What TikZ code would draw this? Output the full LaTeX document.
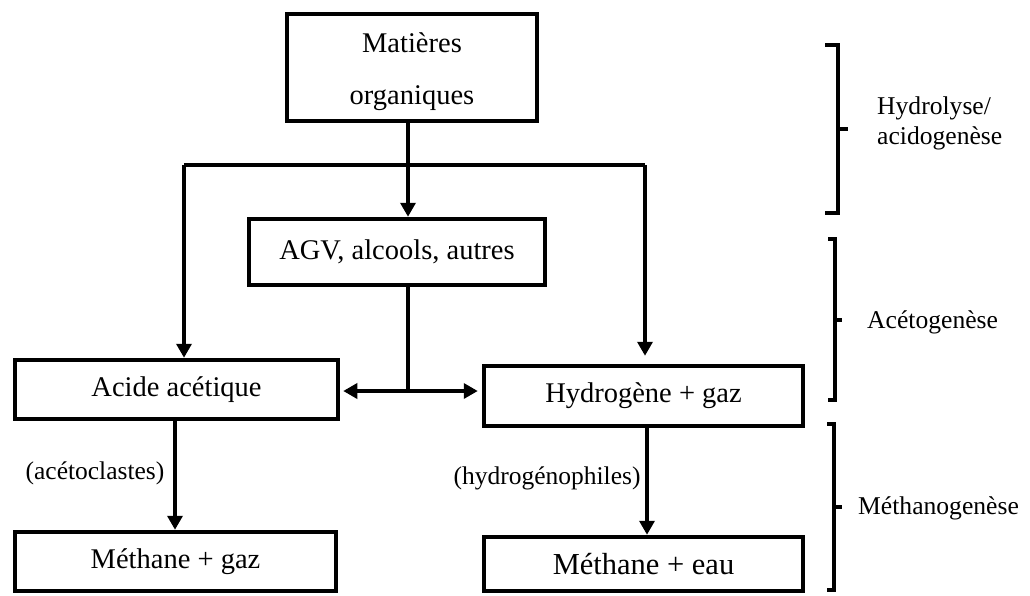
\documentclass[tikz,border=0pt]{standalone}
\usepackage{fontspec}
\setmainfont{Liberation Serif}
\usetikzlibrary{arrows.meta}

\begin{document}
\begin{tikzpicture}[x=1pt,y=-1pt,
  stagebox/.style={draw,line width=4.5pt,inner sep=0pt,align=center,
    font=\fontsize{28.5}{34}\selectfont},
  flow/.style={line width=3.4pt},
  flowarr/.style={flow,-{Triangle[length=14pt,width=15pt]}},
  bacteria/.style={inner sep=0pt,font=\fontsize{25.5}{30}\selectfont},
  phase/.style={inner sep=0pt,anchor=west,align=left,font=\fontsize{25.6}{30}\selectfont},
  bracket/.style={line width=3.4pt}]
\useasboundingbox (0,0) rectangle (1030,595);

% process boxes
\node[stagebox,minimum width=250pt,minimum height=107pt] (mat) at (412,67.5) {};
\node[inner sep=0pt,align=center,font=\fontsize{28.5}{52}\selectfont] (matlbl) at (412,72) {Matières\\organiques};
\node[stagebox,minimum width=296pt,minimum height=66pt] (agv) at (397,252) {AGV, alcools, autres};
\node[stagebox,minimum width=323pt,minimum height=59pt] (acide) at (176.5,389.5) {Acide acétique};
\node[stagebox,minimum width=319pt,minimum height=60pt] (hyd) at (643.5,396) {Hydrogène + gaz};
\node[stagebox,minimum width=321pt,minimum height=59pt] (mgaz) at (175.5,561.5) {Méthane + gaz};
\node[stagebox,minimum width=319pt,minimum height=54pt,
      font=\fontsize{30.5}{36}\selectfont] (meau) at (643.5,564) {Méthane + eau};

% split below the organic matter
\coordinate (split) at (408,165);
\coordinate (lb) at (184,165);
\coordinate (rb) at (645,165);
\draw[flowarr] (mat.south -| split) -- (agv.north -| split);
\draw[flow] (lb) -- (rb);
\draw[flowarr] (lb) -- (acide.north -| lb);
\draw[flowarr,shorten >=8pt] (rb) -- (hyd.north -| rb);

% acetogenesis junction
\coordinate (junc) at (408,391);
\draw[flow] (agv.south -| junc) -- (junc);
\draw[flowarr,shorten >=3pt] (junc) -- (acide.east |- junc);
\draw[flowarr,shorten >=4pt] (junc) -- (hyd.west |- junc);

% methanogenesis
\coordinate (lm) at (175,0);
\coordinate (rm) at (647,0);
\draw[flowarr] (acide.south -| lm) -- (mgaz.north -| lm);
\draw[flowarr] (hyd.south -| rm) -- (meau.north -| rm);
\node[bacteria] (aceto) at (95,473) {(acétoclastes)};
\node[bacteria] (hydro) at (547,478) {(hydrogénophiles)};

% phase brackets
\draw[bracket] (825,45) -- (838,45) -- (838,213) -- (825,213);
\draw[bracket] (838,129) -- (848,129);
\node[phase] (p1) at (877,123) {Hydrolyse/\\acidogenèse};

\draw[bracket] (828,239) -- (835,239) -- (835,400) -- (828,400);
\draw[bracket] (835,320) -- (842,320);
\node[phase] (p2) at (867,322) {Acétogenèse};

\draw[bracket] (827,424) -- (834,424) -- (834,590) -- (827,590);
\draw[bracket] (834,507) -- (842,507);
\node[phase] (p3) at (858,508) {Méthanogenèse};
\end{tikzpicture}
\end{document}
